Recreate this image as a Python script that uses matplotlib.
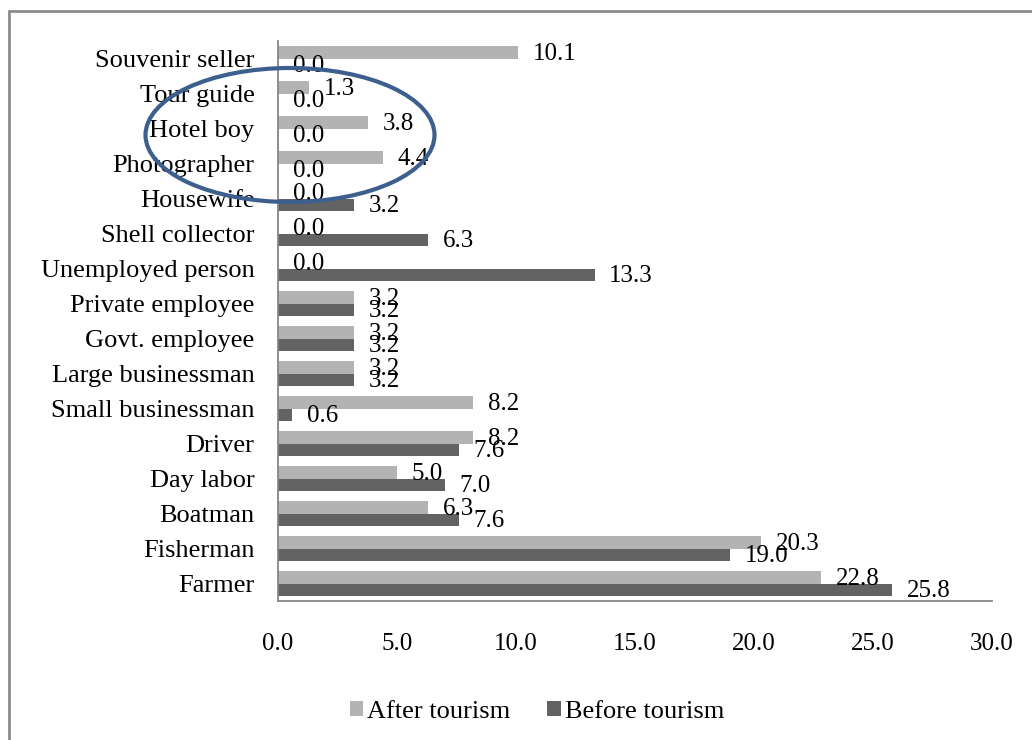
import numpy as np
import matplotlib.pyplot as plt
from matplotlib.patches import Ellipse, Rectangle

# occupations, top to bottom as in the chart
occupations = ['Souvenir seller', 'Tour guide', 'Hotel boy', 'Photographer',
               'Housewife', 'Shell collector', 'Unemployed person',
               'Private employee', 'Govt. employee', 'Large businessman',
               'Small businessman', 'Driver', 'Day labor', 'Boatman',
               'Fisherman', 'Farmer']
after_tourism = [10.1, 1.3, 3.8, 4.4, 0.0, 0.0, 0.0, 3.2, 3.2, 3.2,
                 8.2, 8.2, 5.0, 6.3, 20.3, 22.8]
before_tourism = [0.0, 0.0, 0.0, 0.0, 3.2, 6.3, 13.3, 3.2, 3.2, 3.2,
                  0.6, 7.6, 7.0, 7.6, 19.0, 25.8]
xticks = [0, 5, 10, 15, 20, 25, 30]

plt.rcParams['font.family'] = ['Liberation Serif', 'DejaVu Serif']

c_after = '#b3b3b3'
c_before = '#636363'

fig = plt.figure(figsize=(10.32, 7.4), dpi=100)
ax = fig.add_axes([278 / 1032, 1 - 601 / 740, 714 / 1032, 560 / 740])

y = np.arange(len(occupations))
h = 0.343
ax.barh(y - h / 2, after_tourism, height=h, color=c_after, label='After tourism')
ax.barh(y + h / 2, before_tourism, height=h, color=c_before, label='Before tourism')

for yi, a, b in zip(y, after_tourism, before_tourism):
    ax.text(a + 0.62, yi - h / 2 + 0.05, f'{a:.1f}', va='center', ha='left', fontsize=18)
    ax.text(b + 0.62, yi + h / 2 + 0.05, f'{b:.1f}', va='center', ha='left', fontsize=18)

ax.set_ylim(len(occupations) - 0.5, -0.5)
ax.set_xlim(0, 30)
ax.set_yticks(y)
ax.set_yticklabels(occupations, fontsize=19)
ax.set_xticks(xticks)
ax.set_xticklabels([f'{t:.1f}' for t in xticks], fontsize=18)
ax.tick_params(axis='both', length=0)
ax.tick_params(axis='y', pad=17)
ax.tick_params(axis='x', pad=23)
for s in ['top', 'right']:
    ax.spines[s].set_visible(False)
for s in ['left', 'bottom']:
    ax.spines[s].set_color('#868686')
    ax.spines[s].set_linewidth(1.3)

fig.legend(loc='center', bbox_to_anchor=(537 / 1032, 1 - 712 / 740), ncol=2,
           frameon=False, fontsize=19, handlelength=0.5, handleheight=0.5,
           handletextpad=0.15, columnspacing=1.4)

# outer chart border
fig.patches.append(Rectangle((9 / 1032, -0.1), 1.2, 1.1 - 11 / 740,
                             transform=fig.transFigure, fill=False,
                             edgecolor='#8c8c8c', linewidth=2))
# highlight ellipse around tourism jobs
fig.patches.append(Ellipse((290 / 1032, 1 - 135 / 740), 289 / 1032, 134 / 740,
                           transform=fig.transFigure, fill=False,
                           edgecolor='#3c5f8e', linewidth=3, zorder=10))

fig.savefig('out.png', dpi=100)
